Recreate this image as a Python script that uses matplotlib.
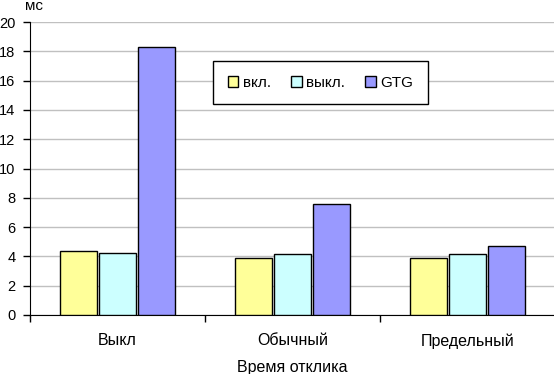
import numpy as np
import matplotlib.pyplot as plt

plt.rcParams['font.family'] = ['Liberation Sans', 'DejaVu Sans']

categories = ['Выкл', 'Обычный', 'Предельный']
series_names = ['вкл.', 'выкл.', 'GTG']
on_vals = [4.4, 3.92, 3.92]
off_vals = [4.2, 4.13, 4.13]
gtg_vals = [18.28, 7.55, 4.74]
colors = ['#ffff99', '#ccffff', '#9999ff']

fig = plt.figure(figsize=(5.54, 3.74), dpi=100)
ax = fig.add_axes([30/554, 59/374, 525/554, 293/374])

x = np.arange(len(categories))
w = 0.222
for i, (vals, name, c) in enumerate(zip([on_vals, off_vals, gtg_vals], series_names, colors)):
	ax.bar(x + (i - 1)*w, vals, w*0.97, color=c, edgecolor='black', linewidth=1.0, label=name, zorder=3)

ax.set_xlim(-0.5, 2.5)
ax.set_ylim(0, 20)
ax.set_yticks(range(0, 21, 2))
ax.yaxis.grid(True, color='#c0c0c0', linewidth=1.0, zorder=0)
ax.set_xticks(x)
ax.set_xticklabels(categories, fontsize=11.5)
ax.set_xticks([-0.5, 0.5, 1.5, 2.5], minor=True)
ax.tick_params(axis='x', which='major', length=0, pad=13)
ax.tick_params(axis='x', which='minor', length=5, width=1, direction='out')
ax.tick_params(axis='y', length=5, width=1, direction='out', labelsize=10.5, pad=5.5)
ax.spines['top'].set_visible(False)
ax.spines['right'].set_visible(False)
ax.set_xlabel('Время отклика', fontsize=11.5, labelpad=8)
fig.text(34/554, 1 - 6/374, 'мс', fontsize=11, ha='center', va='center')

leg = ax.legend(loc='upper left', bbox_to_anchor=(0.349, 0.866), ncol=3, fontsize=11,
	handlelength=0.7, handleheight=0.7, columnspacing=1.3, handletextpad=0.3,
	fancybox=False, framealpha=1, edgecolor='black', borderpad=0.95, borderaxespad=0)
leg.get_frame().set_linewidth(1.0)

plt.savefig('out.png', dpi=100)
